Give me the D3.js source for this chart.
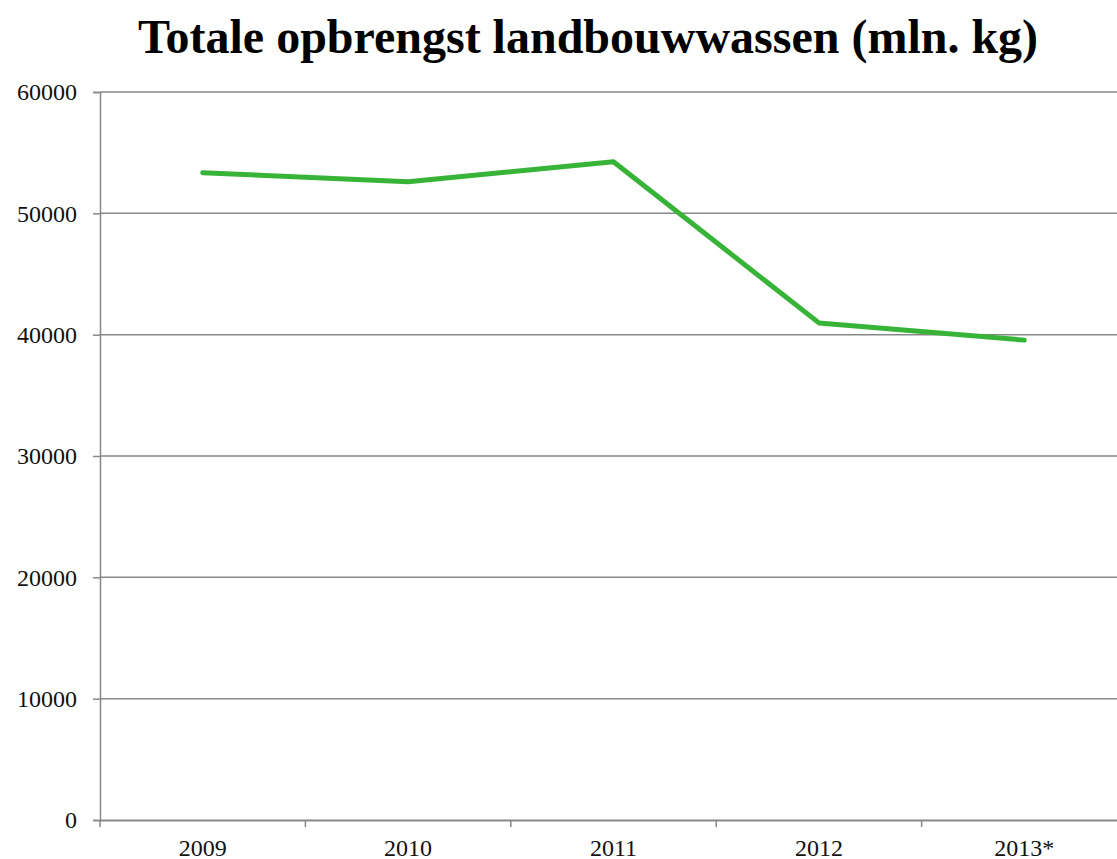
<!DOCTYPE html>
<html>
<head>
<meta charset="utf-8">
<script src="https://cdn.jsdelivr.net/npm/d3@7"></script>
<style>
  body { margin: 0; background: #fff; }
  svg text { font-family: "Liberation Serif", "DejaVu Serif", serif; }
</style>
</head>
<body>
<svg id="chart"></svg>
<script>
// values
let years = ['2009', '2010', '2011', '2012', '2013*'];
let opbrengst = [53350, 52600, 54250, 40970, 39550];
let yTicks = [0, 10000, 20000, 30000, 40000, 50000, 60000];
let titleText = 'Totale opbrengst landbouwwassen (mln. kg)';

let width = 1117;
let height = 859;
let plotLeft = 100;
let plotTop = 92;
let plotBottom = 820;
let bandRight = 1127;

let svg = d3.select('#chart')
    .attr('width', width)
    .attr('height', height);

let xScale = d3.scaleBand()
    .domain(years)
    .range([plotLeft, bandRight]);

let yScale = d3.scaleLinear()
    .domain([0, 60000])
    .range([plotBottom, plotTop]);

// title
svg.append('text')
    .attr('x', 588)
    .attr('y', 53)
    .attr('text-anchor', 'middle')
    .style('font-size', '48px')
    .style('font-weight', 'bold')
    .text(titleText);

// horizontal gridlines
svg.append('g')
    .selectAll('line')
    .data(yTicks.filter(d => d > 0))
    .enter()
    .append('line')
    .attr('x1', plotLeft)
    .attr('x2', width)
    .attr('y1', d => yScale(d))
    .attr('y2', d => yScale(d))
    .attr('stroke', '#878787')
    .attr('stroke-width', 1.5);

// y axis
let yAxis = d3.axisLeft(yScale)
    .tickValues(yTicks)
    .tickSize(7)
    .tickPadding(16)
    .tickFormat(d3.format('d'));

let yG = svg.append('g')
    .attr('transform', 'translate(' + plotLeft + ',0)')
    .call(yAxis);
yG.select('.domain').attr('stroke', '#878787').attr('stroke-width', 1.5);
yG.selectAll('.tick line').attr('stroke', '#878787').attr('stroke-width', 1.5);
yG.selectAll('.tick text')
    .attr('fill', '#111')
    .style('font-family', '"Liberation Serif", serif')
    .style('font-size', '24px');

// x axis with ticks at category boundaries
let xAxis = d3.axisBottom(xScale)
    .tickSize(0)
    .tickPadding(19);

let xG = svg.append('g')
    .attr('transform', 'translate(0,' + plotBottom + ')')
    .call(xAxis);
xG.select('.domain').attr('stroke', '#878787').attr('stroke-width', 2);
xG.selectAll('.tick text')
    .attr('fill', '#111')
    .style('font-family', '"Liberation Serif", serif')
    .style('font-size', '24px');

xG.selectAll('.boundary')
    .data(years)
    .enter()
    .append('line')
    .attr('class', 'boundary')
    .attr('x1', d => xScale(d))
    .attr('x2', d => xScale(d))
    .attr('y1', 0)
    .attr('y2', 7)
    .attr('stroke', '#878787')
    .attr('stroke-width', 1.5);

// data line
let line = d3.line()
    .x((d, i) => xScale(years[i]) + xScale.bandwidth() / 2)
    .y(d => yScale(d));

svg.append('path')
    .datum(opbrengst)
    .attr('d', line)
    .attr('fill', 'none')
    .attr('stroke', '#37b437')
    .attr('stroke-width', 5)
    .attr('stroke-linecap', 'round')
    .attr('stroke-linejoin', 'round');
</script>
</body>
</html>
